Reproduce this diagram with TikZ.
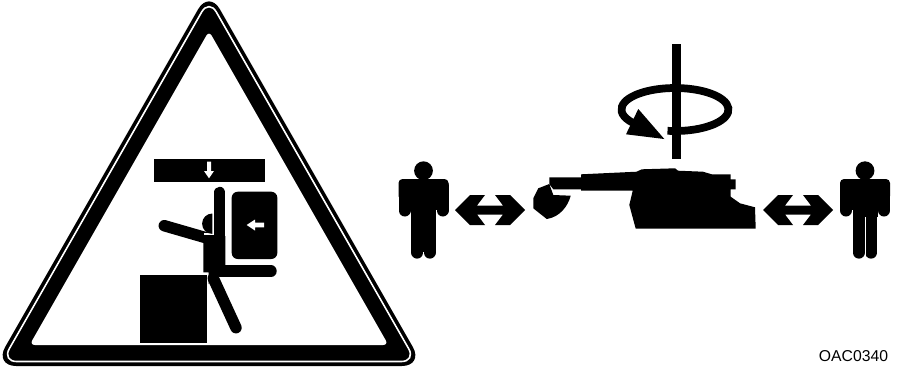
\documentclass[tikz,border=0pt]{standalone}
\usepackage{fontspec}
\setmainfont{Liberation Sans}
\usetikzlibrary{calc}
\tikzset{
  solidpart/.style={fill=black,draw=none},
  limb/.style={draw=black,line width=8.6pt,line cap=round},
  gapline/.style={draw=white,line width=0.75pt}
}
\begin{document}
\begin{tikzpicture}[x=0.75pt,y=-0.75pt,every node/.style={font=\fontsize{11.8pt}{14pt}\selectfont}]
  \useasboundingbox (0,0) rectangle (898,369);
  \fill[white] (0,0) rectangle (898,369);
  % warning triangle
  \path[solidpart,rounded corners=16.5pt] (209,-9.8) -- (423.7,366) -- (-5.7,366) -- cycle;
  \draw[white,line width=1.2pt,rounded corners=11pt] (209,-0.8) -- (416,361.5) -- (2,361.5) -- cycle;
  \fill[white,rounded corners=4pt] (209,31) -- (388.4,345) -- (29.6,345) -- cycle;
  % crushing bar and back panel
  \fill (154,159) rectangle (265,182);
  \fill[white] (207,161.7) -- (211,161.7) -- (211,171) -- (214,171) -- (209,178.3) -- (204,171) -- (207,171) -- cycle;
  \fill[rounded corners=4.5pt] (231.7,191.7) rectangle (277.3,259);
  \fill[white] (246.7,225) -- (255,219.5) -- (255,222.7) -- (264,222.7) -- (264,227.3) -- (255,227.3) -- (255,230.5) -- cycle;
  % operator
  \draw[limb] (164.3,225.7) -- (212,239.5);
  \draw[limb] (219.7,192.5) -- (219.7,270);
  \draw[limb] (220,271.2) -- (271,271.2);
  \draw[limb] (213.3,278.3) -- (236,327.7);
  \fill (203.3,242) -- (214,236) -- (225.3,236) -- (225.3,270) -- (215,277) -- (208.7,284) -- (208.7,272.3) -- (203.3,272.3) -- cycle;
  \fill[white] (204,232.5) rectangle (214,234.6);
  \fill (212.3,213.5) arc[start angle=-90,end angle=-270,radius=10.2] -- cycle;
  \fill (140,275) rectangle (207,342.7);
  % machine
  \fill (533.3,198.3) -- (538.3,188.3) -- (549.3,184) -- (553.3,195) -- (570.7,195.7) .. controls (568,206) and (560,217) .. (546.7,219) -- (533.3,208.3) -- cycle;
  \fill (549.3,177.3) -- (581,177.3) -- (581,174.3) -- (636.7,171.7) -- (641.7,169.3) -- (675,168.3) -- (678,170.7) -- (703,171.7) -- (711.7,174.3) -- (730.7,174.3) -- (730.7,179.3) -- (735.7,179.3) -- (735.7,189.3) -- (730.7,189.3) -- (730.7,196.7) -- (740,203.3) -- (755,207.3) -- (755.7,228.7) -- (635.7,228.7) -- (629.3,205) -- (632.7,190.7) -- (581,190.7) -- (581,189.3) -- (553.3,189.3) -- (549.3,184) -- cycle;
  % rotation
  \draw[line width=5.8pt] (667.5,130.8) arc[start angle=98,end angle=-225,x radius=53.5,y radius=21.5];
  \fill (638.3,109) -- (626,134.3) -- (664.3,139) -- cycle;
  \fill (672.3,44) rectangle (681,159);
  % people on both sides
  \foreach \px/\gap in {423.5/252,865/217} {
    \fill[rounded corners=3pt] (\px-25,179) rectangle (\px+25,200);
    \fill (\px-19,185) rectangle (\px+19,209.5);
    \draw[limb,line width=9pt] (\px-19,186) -- (\px-19,210.5);
    \draw[limb,line width=9pt] (\px+19,186) -- (\px+19,210.5);
    \draw[limb,line width=9.2pt] (\px-6.2,190) -- (\px-6.2,252.5);
    \draw[limb,line width=9.2pt] (\px+6.2,190) -- (\px+6.2,252.5);
    \fill (\px,170.7) circle[radius=9.4];
    \fill (\px-12.5,180) rectangle (\px+12.5,\gap);
  }
  \draw[gapline] (865,217) -- (865,259);
  % double arrows
  \foreach \ax in {490,798} {
    \fill (\ax-35,210) -- (\ax-20,195) -- (\ax-5,195) -- (\ax-13,205.5) -- (\ax+13,205.5) -- (\ax+5,195) -- (\ax+20,195) -- (\ax+35,210) -- (\ax+20,225) -- (\ax+5,225) -- (\ax+13,214.5) -- (\ax-13,214.5) -- (\ax-5,225) -- (\ax-20,225) -- cycle;
  }
  \node (code) at (853.5,356.3) {OAC0340};
\end{tikzpicture}
\end{document}
